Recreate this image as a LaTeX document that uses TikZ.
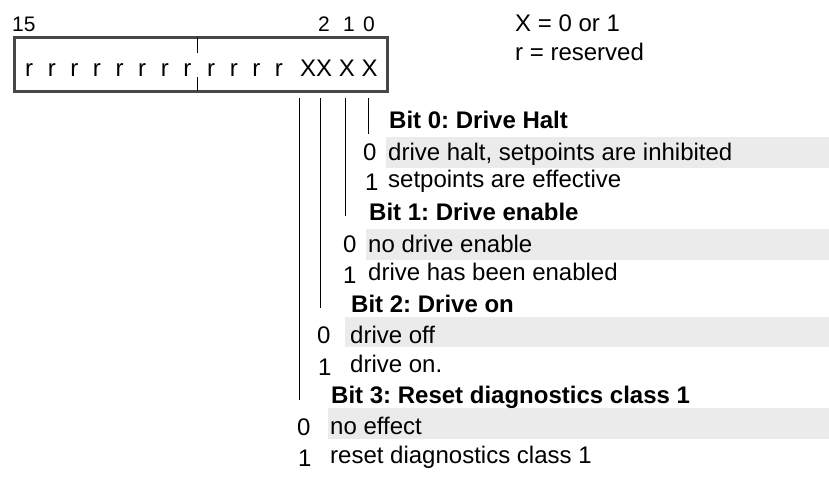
\documentclass[tikz,border=0pt]{standalone}
\usepackage{fontspec}
\setmainfont{Liberation Sans}
\frenchspacing

\begin{document}
\begin{tikzpicture}[x=1pt,y=-1pt,
  txt/.style={anchor=base west,inner sep=0pt,font=\fontsize{24}{28}\selectfont},
  head/.style={txt,font=\fontsize{24}{28}\selectfont\bfseries},
  num/.style={anchor=base west,inner sep=0pt,font=\fontsize{21}{25}\selectfont},
  rrow/.style={txt,execute at begin node={\spaceskip=14.6pt}},
  band/.style={fill=black!8},
  regbox/.style={draw=black!72,line width=3pt},
  bitline/.style={line width=0.9pt}]
  \useasboundingbox (0,0) rectangle (829,488);
  \fill[band] (386,137) rectangle (829,168);
  \fill[band] (366,229) rectangle (829,260);
  \fill[band] (345,317) rectangle (829,347);
  \fill[band] (328,408) rectangle (829,439);
  \draw[regbox] (14,37) rectangle (387,91);
  \draw (197,37) -- (197,53);
  \draw (197,77) -- (197,91);
  \node[num] (n15) at (12,31) {15};
  \node[num] (n2) at (318,31) {2};
  \node[num] (n1) at (343,31) {1};
  \node[num] (n0) at (363,31) {0};
  \node[txt] (keyx) at (515,31) {X = 0 or 1};
  \node[txt] (keyr) at (515,60) {r = reserved};
  \node[rrow] (rhi) at (25,76) {r r r r r r r r};
  \node[rrow] (rlo) at (207,76) {r r r r};
  \node[txt] (xbits) at (300,76) {XX X X};
  \coordinate (b0) at (368,98);
  \coordinate (b1) at (345,98);
  \coordinate (b2) at (320,98);
  \coordinate (b3) at (299,98);
  \node[head] (h0) at (389,128) {Bit 0: Drive Halt};
  \node[txt] (v00) at (363,160) {0};
  \node[txt] (t00) at (388,160) {drive halt, setpoints are inhibited};
  \node[txt] (v01) at (365,190) {1};
  \node[txt] (t01) at (388,187) {setpoints are effective};
  \node[head] (h1) at (369,220) {Bit 1: Drive enable};
  \node[txt] (v10) at (343,252) {0};
  \node[txt] (t10) at (368,252) {no drive enable};
  \node[txt] (v11) at (343,283) {1};
  \node[txt] (t11) at (368,280) {drive has been enabled};
  \node[head] (h2) at (351,312) {Bit 2: Drive on};
  \node[txt] (v20) at (317,343) {0};
  \node[txt] (t20) at (350,343) {drive off};
  \node[txt] (v21) at (318,375) {1};
  \node[txt] (t21) at (350,372) {drive on.};
  \node[head] (h3) at (331,403) {Bit 3: Reset diagnostics class 1};
  \node[txt] (v30) at (297,435) {0};
  \node[txt] (t30) at (330,434) {no effect};
  \node[txt] (v31) at (298,466) {1};
  \node[txt] (t31) at (330,463) {reset diagnostics class 1};
  \draw[bitline] (b0) -- (b0 |- 0,134);
  \draw[bitline] (b1) -- (b1 |- 0,216);
  \draw[bitline] (b2) -- (b2 |- 0,308);
  \draw[bitline] (b3) -- (b3 |- 0,400);
\end{tikzpicture}
\end{document}
